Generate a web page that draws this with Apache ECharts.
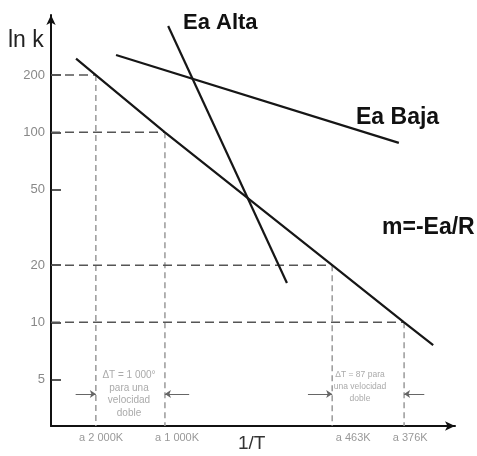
<!DOCTYPE html>
<html>
<head>
<meta charset="utf-8">
<script src="https://cdn.jsdelivr.net/npm/echarts@6/dist/echarts.min.js"></script>
<style>
  html, body { margin: 0; padding: 0; background: #fff; }
  #chart { width: 477px; height: 456px; }
</style>
</head>
<body>
<div id="chart"></div>
<script>
// x: posición relativa sobre el eje 1/T (0-100), y: k (escala logarítmica)
const eaBaja = [[16.1, 255], [86.1, 88]];
const eaAlta = [[29.0, 362], [58.4, 16.1]];
const pendiente = [[6.2, 244], [11.1, 200], [28.2, 100], [69.6, 20], [87.4, 10], [94.6, 7.6]];

// temperaturas de referencia (líneas punteadas)
const tempX = [11.1, 28.2, 69.6, 87.4];
const tempK = [200, 100, 20, 10];
const tempLabels = ['a 2 000K', 'a 1 000K', 'a 463K', 'a 376K'];
const tempLabelX = [12.4, 31.2, 74.8, 88.9];

const yTicks = [5, 10, 20, 50, 100, 200];
const yMin = 2.85;
const yMax = 414;
const arrowK = 4.2;

const font = "'Liberation Sans', Arial, sans-serif";
const chart = echarts.init(document.getElementById('chart'));

const guideSeries = [];
tempX.forEach((x, i) => {
  // horizontal
  guideSeries.push({
    type: 'line',
    data: [[0, tempK[i]], [x, tempK[i]]],
    showSymbol: false,
    silent: true,
    lineStyle: { color: '#555', width: 1.5, type: [9, 5] },
  });
  // vertical
  guideSeries.push({
    type: 'line',
    data: [[x, tempK[i]], [x, yMin]],
    showSymbol: false,
    silent: true,
    lineStyle: { color: '#999', width: 1.5, type: [6, 4] },
  });
});

const mainLine = (data) => ({
  type: 'line',
  data: data,
  showSymbol: false,
  silent: true,
  lineStyle: { color: '#161616', width: 2.2 },
  z: 5,
});

chart.setOption({
  animation: false,
  backgroundColor: '#fff',
  grid: { left: 51, right: 22, top: 15, bottom: 30 },
  xAxis: {
    type: 'value',
    min: 0,
    max: 100,
    splitLine: { show: false },
    axisTick: { show: false },
    axisLine: {
      lineStyle: { color: '#111', width: 2 },
      symbol: ['none', 'arrow'],
      symbolSize: [7, 10],
    },
    axisLabel: {
      customValues: tempLabelX,
      margin: 6,
      color: '#999',
      fontSize: 11,
      fontFamily: font,
      formatter: (v) => {
        let best = 0;
        tempLabelX.forEach((p, i) => {
          if (Math.abs(p - v) < Math.abs(tempLabelX[best] - v)) best = i;
        });
        return tempLabels[best];
      },
    },
  },
  yAxis: {
    type: 'log',
    min: yMin,
    max: yMax,
    splitLine: { show: false },
    axisLine: {
      lineStyle: { color: '#111', width: 2 },
      symbol: ['none', 'arrow'],
      symbolSize: [7, 10],
    },
    axisTick: {
      customValues: yTicks,
      inside: true,
      length: 10,
      lineStyle: { color: '#222', width: 1.5 },
    },
    axisLabel: {
      customValues: yTicks,
      margin: 6,
      color: '#888',
      fontSize: 13,
      fontFamily: font,
    },
  },
  series: [
    ...guideSeries,
    mainLine(pendiente),
    mainLine(eaBaja),
    mainLine(eaAlta),
    {
      type: 'line',
      data: [],
      silent: true,
      markLine: {
        silent: true,
        symbol: ['none', 'arrow'],
        symbolSize: 6,
        label: { show: false },
        lineStyle: { color: '#666', width: 1, type: 'solid' },
        data: [
          [{ coord: [tempX[0] - 5, arrowK] }, { coord: [tempX[0], arrowK] }],
          [{ coord: [tempX[1] + 6, arrowK] }, { coord: [tempX[1], arrowK] }],
          [{ coord: [tempX[2] - 6, arrowK] }, { coord: [tempX[2], arrowK] }],
          [{ coord: [tempX[3] + 5, arrowK] }, { coord: [tempX[3], arrowK] }],
        ],
      },
    },
  ],
  graphic: [
    { type: 'text', left: 8, top: 29, style: { text: 'ln k', font: '23px ' + font, fill: '#222' } },
    { type: 'text', left: 183, top: 12, style: { text: 'Ea Alta', font: 'bold 22px ' + font, fill: '#111' } },
    { type: 'text', left: 356, top: 106, style: { text: 'Ea Baja', font: 'bold 23px ' + font, fill: '#111' } },
    { type: 'text', left: 382, top: 216, style: { text: 'm=-Ea/R', font: 'bold 23px ' + font, fill: '#111' } },
    { type: 'text', left: 238, top: 434, style: { text: '1/T', font: '19px ' + font, fill: '#333' } },
    {
      type: 'text', x: 129, y: 369,
      style: {
        text: 'ΔT = 1 000°\npara una\nvelocidad\ndoble',
        align: 'center', font: '10px ' + font, lineHeight: 12.5, fill: '#aaa',
      },
    },
    {
      type: 'text', x: 360, y: 369,
      style: {
        text: 'ΔT = 87 para\nuna velocidad\ndoble',
        align: 'center', font: '8.5px ' + font, lineHeight: 12, fill: '#aaa',
      },
    },
  ],
});
</script>
</body>
</html>
